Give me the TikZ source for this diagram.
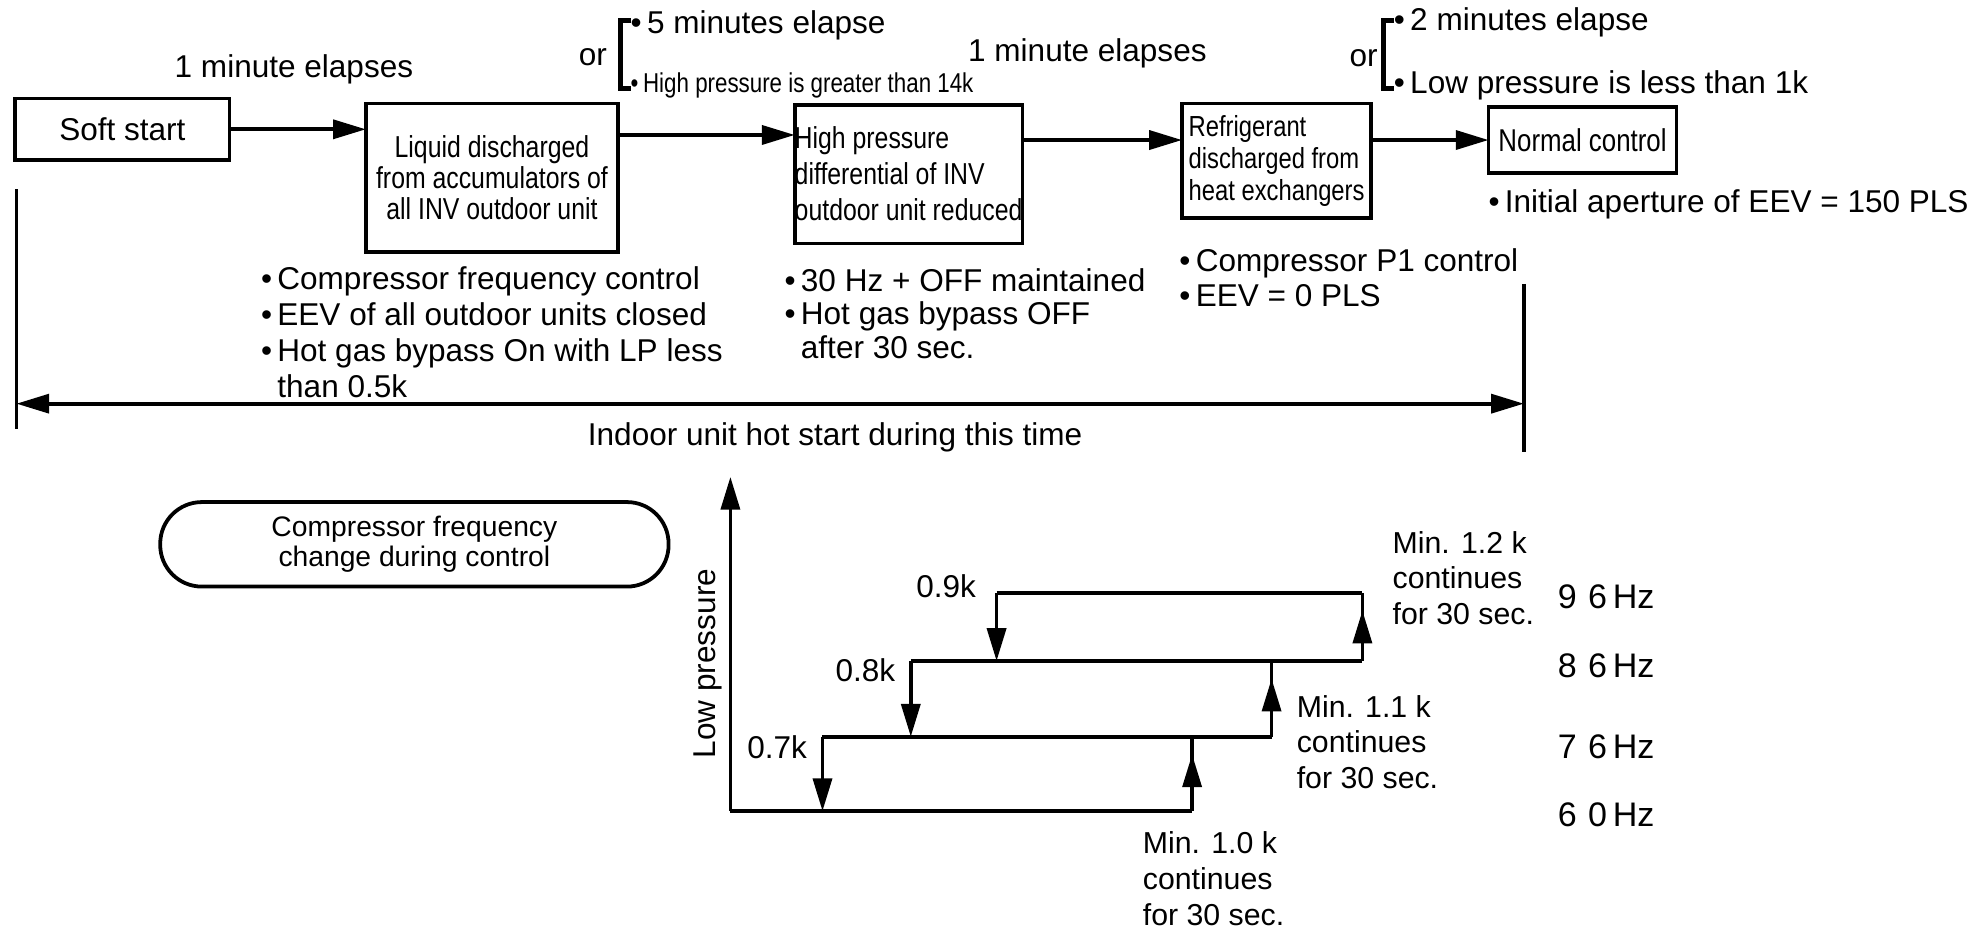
\documentclass[tikz,border=0pt]{standalone}
\usepackage{fontspec}
\setmainfont{Liberation Sans}
\newfontfamily\cond[FakeStretch=0.82]{Liberation Sans}
\usetikzlibrary{arrows.meta,calc}
\newcommand\mybul{•\,}
\begin{document}
\begin{tikzpicture}[x=0.5pt,y=-0.5pt,
  every node/.style={inner sep=0pt, outer sep=0pt},
  txt/.style={font=\fontsize{12.5}{14}\selectfont},
  small/.style={font=\cond\fontsize{10.8}{12}\selectfont},
  box/.style={draw, line width=1.5pt, anchor=north west},
  boxtxt/.style={font=\cond\fontsize{12}{12.4}\selectfont},
  bultxt/.style={font=\fontsize{12.5}{14.3}\selectfont, align=left, anchor=north west},
  conn/.style={line width=1.5pt, -{Triangle[length=13pt,width=7.5pt]}},
  dconn/.style={line width=1.5pt, {Triangle[length=13pt,width=7.5pt]}-{Triangle[length=13pt,width=7.5pt]}},
  plain/.style={line width=1.5pt},
  brk/.style={line width=2pt},
  lbl/.style={font=\fontsize{12}{14.25}\selectfont, align=left, anchor=north west},
  hz/.style={font=\fontsize{13.5}{15}\selectfont, anchor=west}
]
\useasboundingbox (0,0) rectangle (1568,739);

% ---------- boxes ----------
\node[box, minimum width=85pt, minimum height=24.5pt, txt] (soft) at (12,78) {Soft start};
\node[box, minimum width=100pt, minimum height=59pt, boxtxt, align=center] (liq) at (290,82)
  {Liquid discharged\\from accumulators of\\all INV outdoor unit};
\node[box, minimum width=88.5pt, minimum height=55pt, align=left,
  font=\cond\fontsize{12}{14.25}\selectfont] (hp) at (630,83)
  {High pressure\\differential of INV\\outdoor unit reduced};
\node[box, minimum width=75pt, minimum height=45.5pt, align=left,
  font=\cond\fontsize{11.5}{12.75}\selectfont] (ref) at (937,82)
  {Refrigerant\\discharged from\\heat exchangers};
\node[box, minimum width=74.5pt, minimum height=26pt,
  font=\cond\fontsize{12.5}{14}\selectfont] (norm) at (1180,85) {Normal control};

% ---------- connectors ----------
\draw[conn] (soft.east) -- (soft.east -| liq.west);
\draw[conn] ([yshift=-12.5pt]liq.north east) -- ([yshift=-12.5pt]liq.north east -| hp.west);
\draw[conn] ([yshift=-14pt]hp.north east) -- ([yshift=-14pt]hp.north east -| ref.west);
\draw[conn] (ref.east |- norm.west) -- (norm.west);

% ---------- transition conditions ----------
\node[txt] (t1) at (233,55) {1 minute elapses};
\node[txt] (or1) at (470,45) {or};
\coordinate (k1a) at (500,16); \coordinate (k1b) at (492,16);
\coordinate (k1c) at (492,70); \coordinate (k1d) at (500,70);
\draw[brk] (k1a) -- (k1b) -- (k1c) -- (k1d);
\node[txt, anchor=west] (c1a) at (500,20) {\mybul 5 minutes elapse};
\node[small, anchor=west] (c1b) at (500,68) {\mybul High pressure is greater than 14k};

\node[txt] (t2) at (862,42) {1 minute elapses};
\node[txt] (or2) at (1081,46) {or};
\coordinate (k2a) at (1105,16); \coordinate (k2b) at (1097,16);
\coordinate (k2c) at (1097,70); \coordinate (k2d) at (1105,70);
\draw[brk] (k2a) -- (k2b) -- (k2c) -- (k2d);
\node[txt, anchor=west] (c2a) at (1105,18) {\mybul 2 minutes elapse};
\node[txt, anchor=west] (c2b) at (1105,68) {\mybul Low pressure is less than 1k};

% ---------- notes ----------
\node[bultxt] (n1) at (207,211) {\mybul Compressor frequency control\\\mybul EEV of all outdoor units closed\\\mybul Hot gas bypass On with LP less\\\phantom{\mybul}than 0.5k};
\node[bultxt, font=\fontsize{12.5}{13.25}\selectfont] (n2) at (622,213) {\mybul 30 Hz + OFF maintained\\\mybul Hot gas bypass OFF\\\phantom{\mybul}after 30 sec.};
\node[bultxt, font=\fontsize{12.5}{14}\selectfont] (n3) at (935,197) {\mybul Compressor P1 control\\\mybul EEV = 0 PLS};
\node[txt, anchor=west] (n4) at (1180,162) {\mybul Initial aperture of EEV = 150 PLS};

% ---------- hot start span ----------
\coordinate (la) at (13,150); \coordinate (lb) at (13,340);
\coordinate (ra) at (1208,225); \coordinate (rb) at (1208,358);
\coordinate (lm) at (13,320); \coordinate (rm) at (1208,320);
\draw[plain] (la) -- (lb);
\draw[plain] (ra) -- (rb);
\draw[dconn] (lm) -- (rm);
\node[txt] (hot) at (662,347) {Indoor unit hot start during this time};

% ---------- rounded title ----------
\node[draw, line width=1.5pt, minimum width=201.5pt, minimum height=33.5pt, rounded corners=16.5pt,
  align=center, font=\fontsize{11.2}{11.7}\selectfont] (title) at (328.5,431.5)
  {Compressor frequency\\change during control};

% ---------- graph ----------
\coordinate (O) at (579,643);
\coordinate (Ytop) at (579,378);
\coordinate (B1) at (945,643);
\coordinate (A1) at (652,584); \coordinate (A2) at (1008,584);
\coordinate (C1) at (722,524); \coordinate (C2) at (1080,524);
\coordinate (D1) at (790,470); \coordinate (D2) at (1080,470);
\draw[conn] (O) -- (Ytop);
\draw[plain] (O) -- (B1);
\draw[plain] (A1) -- (A2);
\draw[plain] (C1) -- (C2);
\draw[plain] (D1) -- (D2);
% down steps
\draw[conn] (A1) -- (A1 |- O);
\draw[conn] (C1) -- (C1 |- A1);
\draw[conn] (D1) -- (D1 |- C1);
% up steps
\draw[plain] (B1) -- (B1 |- A1);
\draw[conn] (B1) -- ($(B1 |- A1)+(0,14)$);
\draw[plain] (A2) -- (A2 |- C1);
\draw[conn] (A2) -- ($(A2 |- C1)+(0,14)$);
\draw[plain] (C2) -- (D2);
\draw[conn] (C2) -- ($(D2)+(0,14)$);

\node[txt, rotate=90] (lp) at (561,526) {Low pressure};
\node[txt] (k07) at (616,592) {0.7k};
\node[txt] (k08) at (686,531) {0.8k};
\node[txt] (k09) at (750,465) {0.9k};

\node[lbl] (m12) at (1104,421) {Min. 1.2 k\\continues\\for 30 sec.};
\node[lbl] (m11) at (1028,551) {Min. 1.1 k\\continues\\for 30 sec.};
\node[lbl] (m10) at (906,659) {Min. 1.0 k\\continues\\for 30 sec.};

\node[hz] (h96) at (1235,473) {9\,\,6\,Hz};
\node[hz] (h86) at (1235,528) {8\,\,6\,Hz};
\node[hz] (h76) at (1235,592) {7\,\,6\,Hz};
\node[hz] (h60) at (1235,646) {6\,\,0\,Hz};
\end{tikzpicture}
\end{document}
